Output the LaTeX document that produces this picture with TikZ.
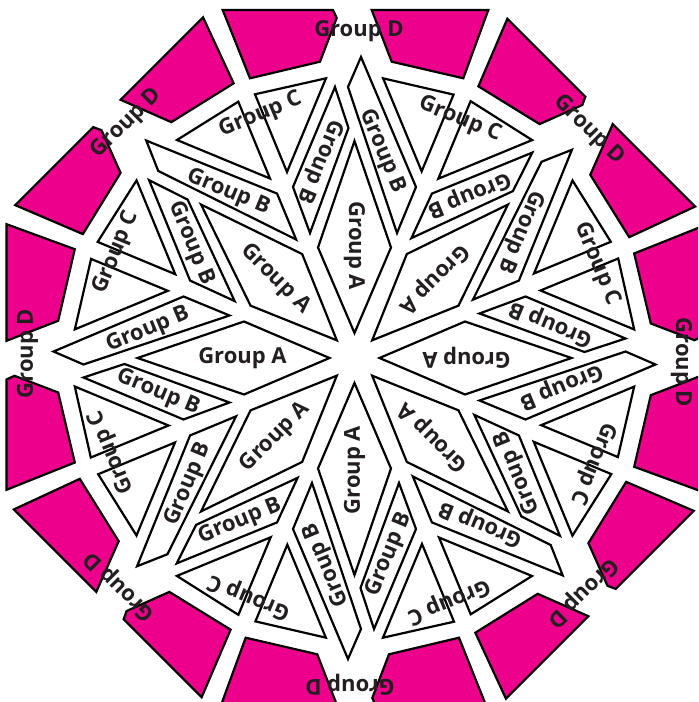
\documentclass[tikz,border=0pt]{standalone}
\usepackage{fontspec}
\setmainfont{Open Sans}
\definecolor{quiltpink}{RGB}{236,0,140}
\definecolor{labelgray}{RGB}{35,31,32}

\begin{document}
\begin{tikzpicture}[x=0.5pt,y=0.5pt,
  piece/.style={draw=black,line width=1.1pt,fill=white},
  pinkpiece/.style={piece,fill=quiltpink},
  lbl/.style={text=labelgray,font=\fontsize{11}{13}\selectfont\bfseries,inner sep=0pt}]
\useasboundingbox (-354.5,-344) rectangle (343.5,358);
\clip (-354.5,-344) rectangle (343.5,358);
\foreach \k in {0,...,7}{
\begin{scope}[rotate=\k*45]
\draw[piece] (0,25) -- (36.5,110.5) -- (0,217) -- (-36.5,110.5) -- cycle;
\draw[piece] (-19.5,271) -- (-6,230) -- (-44.5,125) -- (-61.5,171) -- cycle;
\draw[piece] (6.5,301) -- (61.5,171) -- (42.5,125) -- (-6.5,271) -- cycle;
\draw[piece] (-177.5,218) -- (-116.2,256.3) -- (-84.5,179.5) -- cycle;
\draw[piece] (-99.5,263.7) -- (-28.5,279.7) -- (-67.5,186) -- cycle;
\draw[pinkpiece] (-131.8,348) -- (-21.5,348) -- (-17.8,340) -- (-34.5,296.3) -- (-104.5,279.7) -- cycle;
\draw[pinkpiece] (17.2,348) -- (133.8,348) -- (108.8,279.7) -- (37.2,296.3) -- cycle;
\end{scope}}
\foreach \k in {0,...,7}{
\begin{scope}[rotate=\k*45]
\node[lbl,rotate=\k*45-90] (labA\k) at (0,112) {Group A};
\node[lbl,rotate=\k*45-112.5] (labBl\k) at (-34.5,196.5) {Group B};
\node[lbl,rotate=\k*45-67.5] (labBr\k) at (28,206.5) {Group B};
\node[lbl,rotate=\k*45+22.5] (labC\k) at (-94,243) {Group C};
\node[lbl,rotate=\k*45] (labD\k) at (4.5,327) {Group D};
\end{scope}}
\end{tikzpicture}
\end{document}
